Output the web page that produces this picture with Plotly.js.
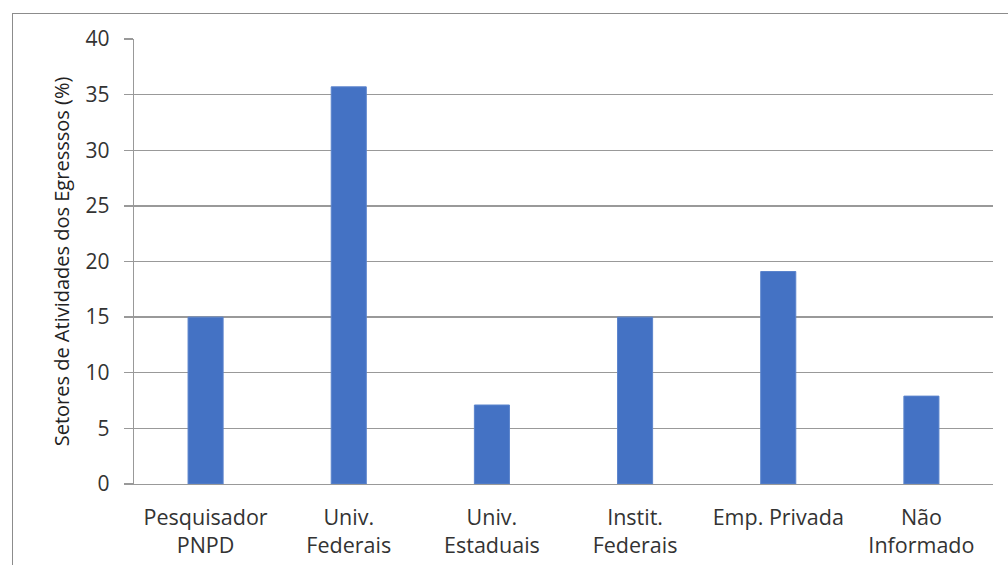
<!DOCTYPE html>
<html>
<head>
<meta charset="utf-8">
<script src="https://cdn.plot.ly/plotly-3.0.1.min.js"></script>
<style>
    html, body { margin: 0; padding: 0; background: #fff; }
    #wrap { position: relative; width: 1008px; height: 565px; overflow: hidden; }
    #frame { position: absolute; left: 12px; top: 13px; width: 1010px; height: 570px;
             border: 1.5px solid #8c8c8c; pointer-events: none; }
    #graphPlotChart { position: absolute; left: 0; top: 0; width: 1008px; height: 565px; }
</style>
</head>
<body>
<div id="wrap">
    <div id="graphPlotChart"></div>
    <div id="frame"></div>
</div>
<script>
    let categories = [
        'Pesquisador<br>PNPD',
        'Univ.<br>Federais',
        'Univ.<br>Estaduais',
        'Instit.<br>Federais',
        'Emp. Privada',
        'Não<br>Informado'
    ];

    let egressos = [15, 35.7, 7.1, 15, 19.1, 7.9];

    let yTicks = [0, 5, 10, 15, 20, 25, 30, 35, 40];

    let trace1 = {
        x: categories,
        y: egressos,
        type: 'bar',
        marker: { color: '#4472C4', line: { color: '#5b84cc', width: 1 } },
        hoverinfo: 'skip'
    };

    let layout = {
        width: 1008,
        height: 565,
        showlegend: false,
        bargap: 0.755,
        paper_bgcolor: '#fff',
        plot_bgcolor: '#fff',
        font: { family: '"Open Sans", sans-serif', size: 21, color: '#333' },

        xaxis: {
            type: 'category',
            showline: true,
            linecolor: '#999',
            linewidth: 1.3,
            ticks: '',
            ticklabelstandoff: 14,
            tickfont: { size: 21.5, color: '#333' },
            showgrid: false,
            fixedrange: true
        },

        yaxis: {
            range: [0, 40],
            tickvals: yTicks,
            showline: true,
            linecolor: '#999',
            linewidth: 1.3,
            ticks: 'outside',
            ticklen: 9,
            tickcolor: '#999',
            tickwidth: 1.3,
            ticklabelstandoff: 10,
            gridcolor: '#999',
            gridwidth: 1.3,
            zeroline: false,
            tickfont: { size: 21, color: '#333' },
            title: {
                text: 'Setores de Atividades dos Egresssos (%)',
                font: { size: 20, color: '#222' },
                standoff: 10
            }
        },

        margin: {
            l: 134,
            r: 15,
            b: 81,
            t: 39
        }
    };

    Plotly.newPlot('graphPlotChart', [trace1], layout, { displayModeBar: false, staticPlot: true });
</script>
</body>
</html>
